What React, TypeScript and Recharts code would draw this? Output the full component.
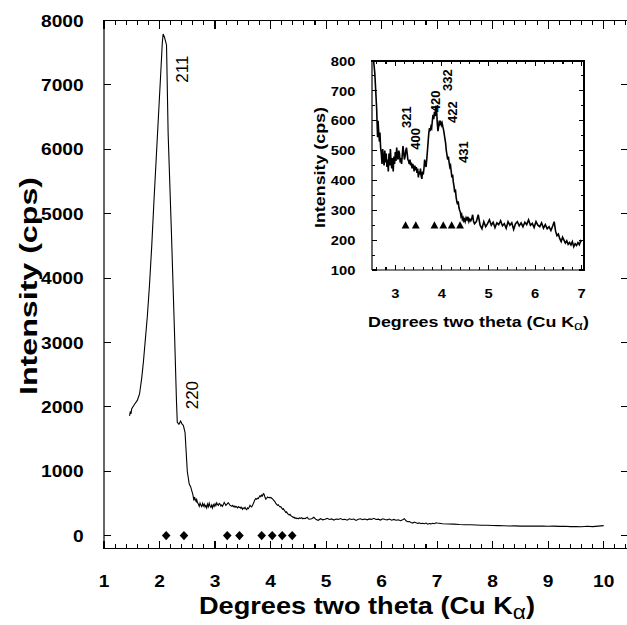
import React from 'react';
import { ComposedChart, Line, Scatter, XAxis, YAxis } from 'recharts';

const FONT = '"Liberation Sans", Arial, Helvetica, sans-serif';
const INK = '#000';

type Pt = [number, number];

// Low-angle part of the scan: the 211 reflection and the 220 shoulder (2θ, cps)
const scanPeak: Pt[] = [
  [1.46, 1860], [1.475, 1930], [1.485, 1890], [1.5, 1970], [1.55, 2040], [1.6, 2100],
  [1.64, 2200], [1.68, 2450], [1.71, 2700], [1.74, 3000], [1.78, 3400], [1.82, 3900],
  [1.86, 4500], [1.9, 5200], [1.94, 5850], [1.98, 6500], [2.02, 7150], [2.05, 7650],
  [2.065, 7790], [2.09, 7740], [2.126, 7620], [2.155, 6250], [2.215, 4690], [2.27, 3150],
  [2.305, 2100], [2.32, 1760], [2.35, 1730], [2.38, 1780], [2.4, 1740], [2.43, 1710],
  [2.46, 1600], [2.48, 1300], [2.5, 1000],
];

// 2.5–7° part of the scan, also drawn enlarged in the inset (2θ, cps)
const scanMid: Pt[] = [
  [2.535, 800], [2.56, 760], [2.58, 700], [2.6, 640], [2.61, 590], [2.62, 545],
  [2.63, 600], [2.645, 560], [2.66, 530], [2.67, 560], [2.685, 510], [2.7, 490], [2.715, 455],
  [2.73, 505], [2.745, 470], [2.76, 450], [2.775, 500], [2.79, 460], [2.805, 490], [2.82, 445],
  [2.835, 470], [2.85, 430], [2.865, 490], [2.88, 450], [2.895, 505], [2.91, 460], [2.925, 440],
  [2.94, 475], [2.955, 430], [2.97, 480], [2.985, 455], [3.0, 495], [3.015, 465], [3.03, 510],
  [3.045, 480], [3.06, 470], [3.075, 500], [3.09, 490], [3.105, 460], [3.12, 475], [3.135, 455],
  [3.15, 485], [3.165, 515], [3.18, 495], [3.195, 470], [3.21, 480], [3.225, 500], [3.24, 510],
  [3.255, 490], [3.27, 470], [3.285, 465], [3.3, 455], [3.315, 470], [3.33, 450], [3.345, 460],
  [3.36, 440], [3.375, 455], [3.39, 445], [3.405, 430], [3.42, 450], [3.435, 435], [3.45, 445],
  [3.465, 425], [3.48, 440], [3.495, 410], [3.51, 430], [3.525, 420], [3.54, 440], [3.555, 415],
  [3.57, 405], [3.585, 430], [3.6, 420], [3.615, 440], [3.63, 470], [3.645, 455], [3.66, 445],
  [3.675, 470], [3.69, 500], [3.705, 530], [3.72, 560], [3.735, 575], [3.75, 565], [3.765, 580],
  [3.78, 575], [3.795, 600], [3.81, 620], [3.825, 605], [3.84, 630], [3.855, 615], [3.87, 650],
  [3.885, 640], [3.9, 595], [3.915, 565], [3.93, 580], [3.945, 600], [3.96, 590], [3.975, 595],
  [3.99, 585], [4.005, 592], [4.02, 580], [4.035, 570], [4.05, 555], [4.065, 540], [4.08, 525],
  [4.095, 500], [4.11, 485], [4.125, 470], [4.14, 480], [4.155, 460], [4.17, 445], [4.185, 450],
  [4.2, 430], [4.215, 410], [4.23, 420], [4.245, 395], [4.26, 380], [4.275, 360], [4.29, 370],
  [4.305, 345], [4.32, 330], [4.335, 320], [4.35, 330], [4.365, 310], [4.38, 300], [4.395, 295],
  [4.41, 280], [4.425, 285], [4.44, 270], [4.455, 275], [4.47, 265], [4.485, 270], [4.5, 262],
  [4.52, 275], [4.54, 268], [4.56, 278], [4.58, 262], [4.6, 270], [4.62, 265], [4.64, 272],
  [4.66, 285], [4.68, 262], [4.7, 255], [4.74, 262], [4.78, 285], [4.82, 250], [4.86, 238],
  [4.9, 262], [4.94, 245], [4.98, 255], [5.02, 268], [5.06, 250], [5.1, 260], [5.14, 242],
  [5.18, 258], [5.22, 252], [5.26, 265], [5.3, 248], [5.34, 255], [5.38, 240], [5.42, 262],
  [5.46, 250], [5.5, 258], [5.54, 236], [5.58, 255], [5.62, 262], [5.66, 248], [5.7, 258],
  [5.74, 245], [5.78, 260], [5.82, 252], [5.86, 268], [5.9, 250], [5.94, 256], [5.98, 242],
  [6.02, 262], [6.06, 250], [6.1, 245], [6.14, 258], [6.18, 240], [6.22, 252], [6.26, 238],
  [6.3, 245], [6.34, 232], [6.38, 248], [6.41, 262], [6.44, 230], [6.47, 215], [6.5, 220],
  [6.53, 205], [6.56, 195], [6.59, 210], [6.62, 200], [6.65, 190], [6.68, 198], [6.71, 186],
  [6.74, 192], [6.77, 184], [6.8, 195], [6.83, 178], [6.86, 188], [6.89, 182], [6.92, 192],
  [6.95, 185], [6.98, 198], [7.0, 195],
];

// High-angle background (2θ, cps)
const scanTail: Pt[] = [
  [7.1, 185], [7.2, 180], [7.3, 178], [7.4, 172], [7.5, 170], [7.6, 168], [7.7, 165],
  [7.8, 162], [7.9, 160], [8.0, 158], [8.1, 155], [8.2, 153], [8.3, 150], [8.4, 152],
  [8.5, 148], [8.6, 150], [8.7, 147], [8.8, 150], [8.9, 148], [9.0, 145], [9.1, 148],
  [9.2, 143], [9.3, 146], [9.4, 140], [9.5, 142], [9.6, 138], [9.7, 145], [9.8, 140],
  [9.9, 148], [10.0, 155],
];

// Reflection positions (2θ) and their indices
const reflectionTheta = [2.12, 2.44, 3.22, 3.44, 3.84, 4.03, 4.21, 4.39];
const reflectionHkl = ['211', '220', '321', '400', '420', '332', '422', '431'];

// Index labels: anchor point (2θ, cps) of each rotated label
const mainHklLabels = [
  { hkl: '211', theta: 2.41, cps: 7244 },
  { hkl: '220', theta: 2.59, cps: 2182 },
];
const insetHklLabels = [
  { hkl: '321', theta: 3.23, cps: 612 },
  { hkl: '400', theta: 3.44, cps: 539 },
  { hkl: '420', theta: 3.86, cps: 665 },
  { hkl: '332', theta: 4.11, cps: 736 },
  { hkl: '422', theta: 4.22, cps: 629 },
  { hkl: '431', theta: 4.47, cps: 495 },
];

// Axis ranges and tick labels
const mainThetaRange: [number, number] = [1, 10.42];
const mainCpsRange: [number, number] = [-200, 8000];
const insetThetaRange: [number, number] = [2.5, 7.05];
const insetCpsRange: [number, number] = [100, 800];
const mainThetaLabels = [1, 2, 3, 4, 5, 6, 7, 8, 9, 10];
const mainCpsLabels = [0, 1000, 2000, 3000, 4000, 5000, 6000, 7000, 8000];
const insetThetaLabels = [3, 4, 5, 6, 7];
const insetCpsLabels = [100, 200, 300, 400, 500, 600, 700, 800];

const steps = (from: number, to: number, step: number) => {
  const out: number[] = [];
  for (let v = from; v <= to + 1e-9; v += step) out.push(Math.round(v * 1000) / 1000);
  return out;
};
const isIn = (list: number[], v: number) => list.some((m) => Math.abs(m - v) < 1e-6);

const toRows = (pts: Pt[]) => pts.map(([theta, cps]) => ({ theta, cps }));
const mainRows = toRows([...scanPeak, ...scanMid, ...scanTail]);
const insetRows = toRows(scanMid);
const mainMarkers = reflectionTheta.map((theta, i) => ({ theta, cps: 0, hkl: reflectionHkl[i] }));
const insetMarkers = reflectionTheta.filter((t) => t > 3).map((theta) => ({ theta, cps: 250 }));

// Chart boxes (page position, size and margins) shared by the charts and their frames
const mainBox = { left: 0, top: 0, width: 627, height: 625, margin: { top: 20.5, right: 0, bottom: 75.5, left: 103 } };
const insetBox = { left: 300, top: 40, width: 320, height: 310, margin: { top: 21, right: 36, bottom: 79, left: 71 } };
// the value axes each take 1px of the margin box
const plotArea = (b: typeof mainBox) => ({
  x0: b.left + b.margin.left + 1,
  x1: b.left + b.width - b.margin.right,
  y0: b.top + b.margin.top,
  y1: b.top + b.height - b.margin.bottom - 1,
});

const makeBottomLabel = (fontSize: number, offset: number) => (props: any) => {
  const { x, y, payload } = props;
  return (
    <text
      transform={`translate(${x},${y + offset}) scale(1.13,1)`}
      textAnchor="middle"
      fontFamily={FONT}
      fontWeight="bold"
      fontSize={fontSize}
      fill={INK}
    >
      {payload.value}
    </text>
  );
};

const makeLeftLabel = (fontSize: number, offset: number) => (props: any) => {
  const { x, y, payload } = props;
  return (
    <text
      transform={`translate(${x - offset},${y}) scale(1.13,1)`}
      textAnchor="end"
      dy="0.36em"
      fontFamily={FONT}
      fontWeight="bold"
      fontSize={fontSize}
      fill={INK}
    >
      {payload.value}
    </text>
  );
};

const Diamond = (props: any) => {
  const { cx, cy } = props;
  if (cx == null || cy == null) return null;
  return <path d={`M${cx},${cy - 4.6} L${cx + 4.3},${cy} L${cx},${cy + 4.6} L${cx - 4.3},${cy} Z`} fill={INK} />;
};

const Triangle = (props: any) => {
  const { cx, cy } = props;
  if (cx == null || cy == null) return null;
  return <path d={`M${cx},${cy - 4} L${cx + 3.9},${cy + 3.3} L${cx - 3.9},${cy + 3.3} Z`} fill={INK} />;
};

const makeHklText = (fontSize: number, weight: string) => (props: any) => {
  const { cx, cy, payload } = props;
  if (cx == null || cy == null) return null;
  return (
    <text
      transform={`translate(${cx},${cy}) rotate(-90)`}
      textAnchor="middle"
      dy="0.36em"
      fontFamily={FONT}
      fontSize={fontSize}
      fontWeight={weight}
      fill={INK}
    >
      {payload.hkl}
    </text>
  );
};

const mainBottomLabel = makeBottomLabel(17, 30.5);
const mainLeftLabel = makeLeftLabel(17, 12.3);
const insetBottomLabel = makeBottomLabel(13, 19.7);
const insetLeftLabel = makeLeftLabel(13, 8.7);
const mainHklShape = makeHklText(17, 'normal');
const insetHklShape = makeHklText(13, 'bold');
const axisStroke = { stroke: INK, strokeWidth: 1.2 };

function MainChart() {
  return (
    <ComposedChart width={mainBox.width} height={mainBox.height} margin={mainBox.margin}>
      <XAxis
        dataKey="theta"
        type="number"
        domain={mainThetaRange}
        ticks={mainThetaLabels}
        interval={0}
        height={1}
        tickLine={false}
        axisLine={axisStroke}
        tick={mainBottomLabel}
      />
      <YAxis
        dataKey="cps"
        type="number"
        domain={mainCpsRange}
        ticks={mainCpsLabels}
        interval={0}
        width={1}
        tickLine={false}
        axisLine={axisStroke}
        tick={mainLeftLabel}
      />
      <Line data={mainRows} dataKey="cps" stroke={INK} strokeWidth={1.1} dot={false} isAnimationActive={false} />
      <Scatter data={mainMarkers} dataKey="cps" shape={Diamond} isAnimationActive={false} />
      <Scatter data={mainHklLabels} dataKey="cps" shape={mainHklShape} isAnimationActive={false} />
    </ComposedChart>
  );
}

function InsetChart() {
  return (
    <ComposedChart width={insetBox.width} height={insetBox.height} margin={insetBox.margin}>
      <XAxis
        dataKey="theta"
        type="number"
        domain={insetThetaRange}
        ticks={insetThetaLabels}
        interval={0}
        height={1}
        tickLine={false}
        axisLine={axisStroke}
        tick={insetBottomLabel}
      />
      <YAxis
        dataKey="cps"
        type="number"
        domain={insetCpsRange}
        ticks={insetCpsLabels}
        interval={0}
        width={1}
        tickLine={false}
        axisLine={axisStroke}
        tick={insetLeftLabel}
      />
      <Line data={insetRows} dataKey="cps" stroke={INK} strokeWidth={1.6} dot={false} isAnimationActive={false} />
      <Scatter data={insetMarkers} dataKey="cps" shape={Triangle} isAnimationActive={false} />
      <Scatter data={insetHklLabels} dataKey="cps" shape={insetHklShape} isAnimationActive={false} />
    </ComposedChart>
  );
}

interface FrameProps {
  box: typeof mainBox;
  xr: [number, number];
  yr: [number, number];
  xTicks: number[];
  xMajors: number[];
  yTicks: number[];
  yMajors: number[];
  xLen: [number, number];
  yLen: [number, number];
  rightLen: [number, number];
}

// Top and right frame edges plus inward tick marks on all four sides, as page blocks
function FrameBlocks({ box, xr, yr, xTicks, xMajors, yTicks, yMajors, xLen, yLen, rightLen }: FrameProps) {
  const { x0, x1, y0, y1 } = plotArea(box);
  const px = (v: number) => x0 + ((v - xr[0]) / (xr[1] - xr[0])) * (x1 - x0);
  const py = (v: number) => y1 - ((v - yr[0]) / (yr[1] - yr[0])) * (y1 - y0);
  const blocks: React.CSSProperties[] = [];
  const bar = (left: number, top: number, width: number, height: number) =>
    blocks.push({ position: 'absolute', left, top, width, height, background: INK });
  bar(x0 - 0.6, y0 - 0.6, x1 - x0 + 1.2, 1.2);
  if (x1 < 626) bar(x1 - 0.6, y0 - 0.6, 1.2, y1 - y0 + 1.2);
  xTicks.forEach((v) => {
    const len = isIn(xMajors, v) ? xLen[0] : xLen[1];
    const x = px(v);
    bar(x - 0.55, y1 - len, 1.1, len);
    bar(x - 0.55, y0, 1.1, len);
  });
  yTicks.forEach((v) => {
    const major = isIn(yMajors, v);
    const y = py(v);
    const l = major ? yLen[0] : yLen[1];
    const r = major ? rightLen[0] : rightLen[1];
    bar(x0, y - 0.55, l, 1.1);
    bar(x1 - r, y - 0.55, r, 1.1);
  });
  return (
    <>
      {blocks.map((s, i) => (
        <div key={i} style={s} />
      ))}
    </>
  );
}

function Titles() {
  return (
    <svg width={627} height={625} style={{ position: 'absolute', left: 0, top: 0, pointerEvents: 'none' }}>
      <text
        x={367}
        y={614}
        textAnchor="middle"
        fontFamily={FONT}
        fontWeight="bold"
        fontSize={24}
        fill={INK}
        textLength={336}
        lengthAdjust="spacingAndGlyphs"
      >
        Degrees two theta (Cu K
        <tspan fontWeight="normal" fontSize={20} dy={5}>α</tspan>
        <tspan dy={-5}>)</tspan>
      </text>
      <text
        transform="translate(37,286) rotate(-90)"
        textAnchor="middle"
        fontFamily={FONT}
        fontWeight="bold"
        fontSize={23}
        fill={INK}
        textLength={218}
        lengthAdjust="spacingAndGlyphs"
      >
        Intensity (cps)
      </text>
      <text
        x={478.5}
        y={327}
        textAnchor="middle"
        fontFamily={FONT}
        fontWeight="bold"
        fontSize={15}
        fill={INK}
        textLength={221}
        lengthAdjust="spacingAndGlyphs"
      >
        Degrees two theta (Cu K
        <tspan fontWeight="normal" fontSize={13} dy={3}>α</tspan>
        <tspan dy={-3}>)</tspan>
      </text>
      <text
        transform="translate(325,167.5) rotate(-90)"
        textAnchor="middle"
        fontFamily={FONT}
        fontWeight="bold"
        fontSize={15}
        fill={INK}
        textLength={121}
        lengthAdjust="spacingAndGlyphs"
      >
        Intensity (cps)
      </text>
    </svg>
  );
}

export default function App() {
  return (
    <div style={{ position: 'absolute', left: 0, top: 0, width: 627, height: 625, background: '#fff', overflow: 'hidden' }}>
      <div style={{ position: 'absolute', left: mainBox.left, top: mainBox.top }}>
        <MainChart />
      </div>
      <div style={{ position: 'absolute', left: insetBox.left, top: insetBox.top }}>
        <InsetChart />
      </div>
      <FrameBlocks
        box={mainBox}
        xr={mainThetaRange}
        yr={mainCpsRange}
        xTicks={steps(1, 10.4, 0.2)}
        xMajors={mainThetaLabels}
        yTicks={mainCpsLabels}
        yMajors={mainCpsLabels}
        xLen={[8, 4.5]}
        yLen={[7, 4]}
        rightLen={[6, 3]}
      />
      <FrameBlocks
        box={insetBox}
        xr={insetThetaRange}
        yr={insetCpsRange}
        xTicks={steps(2.6, 7.0, 0.2)}
        xMajors={insetThetaLabels}
        yTicks={steps(100, 800, 50)}
        yMajors={insetCpsLabels}
        xLen={[5, 3]}
        yLen={[5, 3]}
        rightLen={[5, 3]}
      />
      <Titles />
    </div>
  );
}
